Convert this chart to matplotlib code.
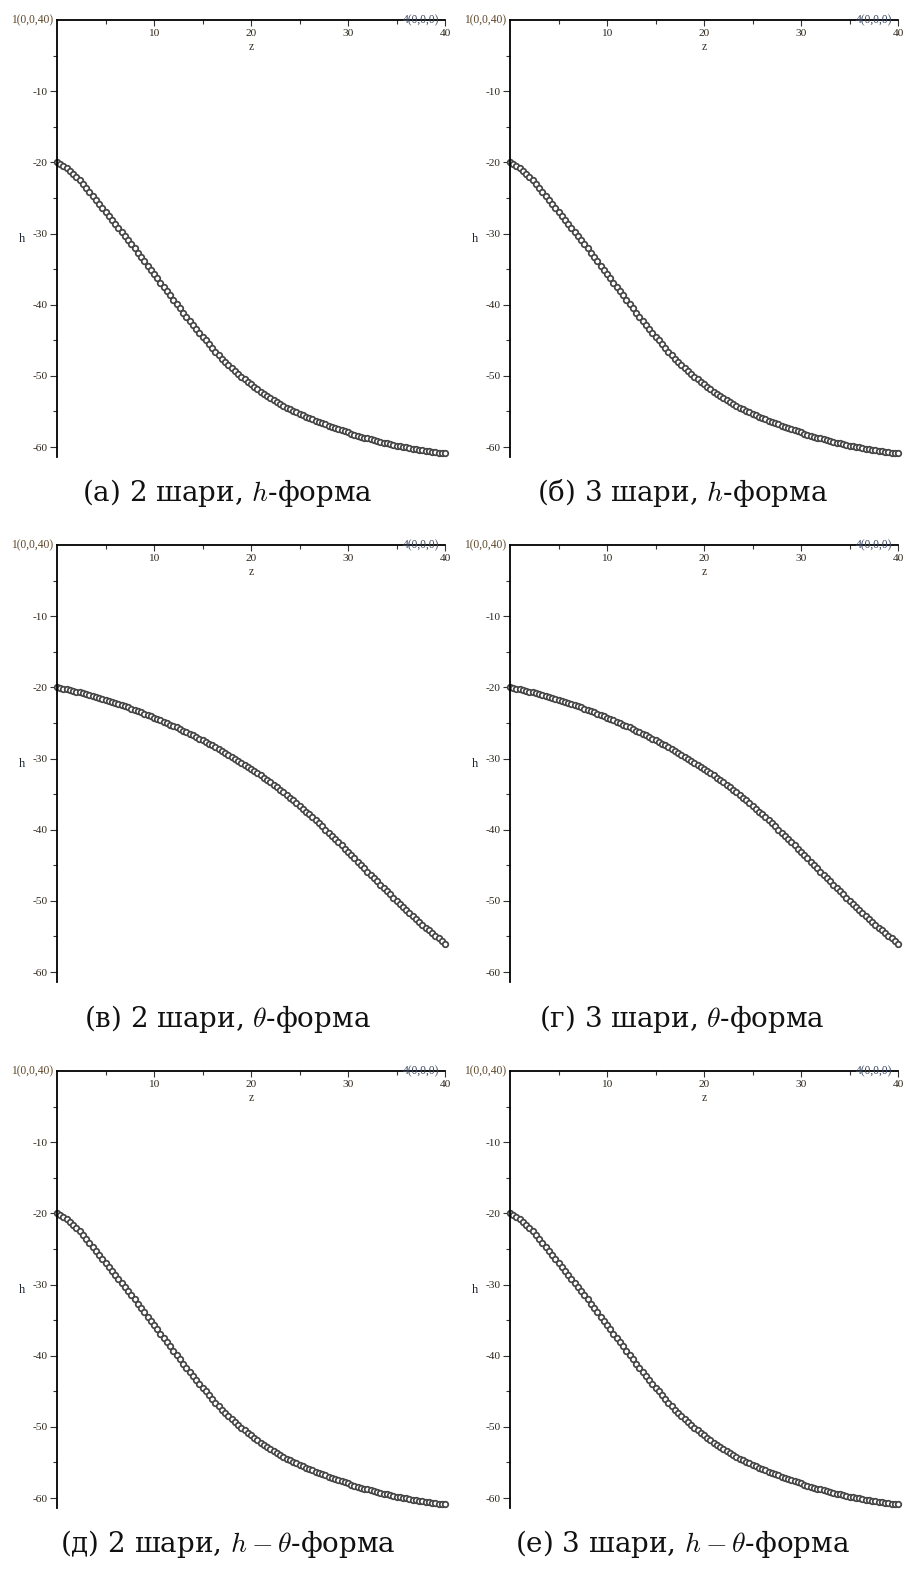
import matplotlib
matplotlib.use('Agg')
import matplotlib.pyplot as plt

plt.rcParams['font.family'] = ['Liberation Serif', 'DejaVu Serif']
plt.rcParams['mathtext.fontset'] = 'cm'

# сітка по z (крок 1/3)
z = [i / 3 for i in range(121)]

# h-форма (та сама крива для h та h-theta форм)
h_form = [
    -20.0, -20.2, -20.45, -20.75,
    -21.15, -21.57, -22.0,
    -22.53, -23.07, -23.6,
    -24.17, -24.73, -25.3,
    -25.87, -26.43, -27.0,
    -27.57, -28.13, -28.7,
    -29.27, -29.83, -30.4,
    -30.97, -31.53, -32.1,
    -32.7, -33.3, -33.9,
    -34.5, -35.1, -35.7,
    -36.3, -36.9, -37.5,
    -38.1, -38.7, -39.3,
    -39.9, -40.5, -41.1,
    -41.67, -42.23, -42.8,
    -43.37, -43.93, -44.5,
    -45.03, -45.57, -46.1,
    -46.6, -47.1, -47.6,
    -48.03, -48.47, -48.9,
    -49.3, -49.7, -50.1,
    -50.47, -50.83, -51.2,
    -51.53, -51.87, -52.2,
    -52.5, -52.8, -53.1,
    -53.38, -53.67, -53.95,
    -54.2, -54.45, -54.7,
    -54.92, -55.13, -55.35,
    -55.55, -55.75, -55.95,
    -56.13, -56.32, -56.5,
    -56.67, -56.83, -57.0,
    -57.17, -57.33, -57.5,
    -57.65, -57.8, -57.95,
    -58.1, -58.25, -58.4,
    -58.53, -58.67, -58.8,
    -58.92, -59.03, -59.15,
    -59.27, -59.38, -59.5,
    -59.6, -59.7, -59.8,
    -59.88, -59.97, -60.05,
    -60.13, -60.22, -60.3,
    -60.37, -60.43, -60.5,
    -60.57, -60.63, -60.7,
    -60.77, -60.83, -60.9,
]

# theta-форма
theta_form = [
    -20.0, -20.09, -20.18, -20.28,
    -20.39, -20.49, -20.6,
    -20.72, -20.83, -20.95,
    -21.08, -21.2, -21.33,
    -21.47, -21.6, -21.74,
    -21.89, -22.03, -22.18,
    -22.34, -22.49, -22.65,
    -22.82, -22.98, -23.15,
    -23.33, -23.5, -23.68,
    -23.87, -24.05, -24.24,
    -24.43, -24.63, -24.82,
    -25.02, -25.23, -25.43,
    -25.64, -25.86, -26.07,
    -26.29, -26.52, -26.74,
    -26.97, -27.21, -27.44,
    -27.68, -27.93, -28.17,
    -28.42, -28.68, -28.93,
    -29.2, -29.46, -29.73,
    -30.01, -30.29, -30.57,
    -30.86, -31.16, -31.45,
    -31.76, -32.06, -32.37,
    -32.7, -33.02, -33.35,
    -33.7, -34.04, -34.39,
    -34.76, -35.12, -35.49,
    -35.88, -36.26, -36.65,
    -37.05, -37.46, -37.86,
    -38.28, -38.7, -39.12,
    -39.55, -39.99, -40.42,
    -40.86, -41.31, -41.75,
    -42.2, -42.66, -43.11,
    -43.57, -44.03, -44.49,
    -44.95, -45.42, -45.88,
    -46.34, -46.81, -47.27,
    -47.73, -48.19, -48.65,
    -49.1, -49.56, -50.01,
    -50.44, -50.88, -51.31,
    -51.73, -52.14, -52.56,
    -52.96, -53.36, -53.76,
    -54.14, -54.53, -54.91,
    -55.28, -55.64, -56.01,
]

captions = [
    '(а) 2 шари, $h$-форма',
    '(б) 3 шари, $h$-форма',
    '(в) 2 шари, $\\theta$-форма',
    '(г) 3 шари, $\\theta$-форма',
    '(д) 2 шари, $h-\\theta$-форма',
    '(е) 3 шари, $h-\\theta$-форма',
]
curves = [h_form, h_form, theta_form, theta_form, h_form, h_form]

x_major = [10, 20, 30, 40]
x_minor = [5, 15, 25, 35]
y_major = [-10, -20, -30, -40, -50, -60]
y_minor = [-5, -15, -25, -35, -45, -55]

W, H = 906, 1577
fig = plt.figure(figsize=(W / 100, H / 100), dpi=100)

col_left = [57, 510]
row_top = [20, 545, 1071]
ax_w, ax_h = 388, 437
cap_base = [501, 1027, 1552]
cap_x = [0.251, 0.753]

tick_col = '#2e261c'

for i in range(6):
    r, c = i // 2, i % 2
    ax = fig.add_axes([col_left[c] / W, 1 - (row_top[r] + ax_h) / H, ax_w / W, ax_h / H])
    ax.plot(z, curves[i], 'o', ms=4.0, mfc='white', mec='#444444', mew=1.25, clip_on=False)
    ax.set_xlim(0, 40)
    ax.set_ylim(-61.4, 0)

    for s in ['right', 'bottom']:
        ax.spines[s].set_visible(False)
    for s in ['left', 'top']:
        ax.spines[s].set_linewidth(1.3)
        ax.spines[s].set_color('black')

    ax.set_xticks(x_major)
    ax.set_xticks(x_minor, minor=True)
    ax.tick_params(axis='x', which='both', top=True, bottom=False, labeltop=False,
                   labelbottom=False, direction='in', color='#333333', width=0.8)
    ax.tick_params(axis='x', which='major', length=4)
    ax.tick_params(axis='x', which='minor', length=3)
    for t in x_major:
        ax.text(t, 1 - 13.7 / ax_h, str(t), transform=ax.get_xaxis_transform(),
                ha='center', va='center', fontsize=8.2, color=tick_col)

    ax.set_yticks(y_major)
    ax.set_yticklabels(['-' + str(-v) for v in y_major], fontsize=8.2, color=tick_col)
    ax.set_yticks(y_minor, minor=True)
    ax.tick_params(axis='y', which='both', direction='out', color='#333333', width=0.8)
    ax.tick_params(axis='y', which='major', length=5, pad=2)
    ax.tick_params(axis='y', which='minor', length=3)

    ax.text(0.5, 1 - 26.7 / ax_h, 'z', transform=ax.transAxes, ha='center', va='center',
            fontsize=8.5, color='#3a3024')
    ax.text(-35.3 / ax_w, 0.498, 'h', transform=ax.transAxes, ha='center', va='center',
            fontsize=9, color='#1c2430')

    ax.text(-0.35, 0, '1(0,0,40)', ha='right', va='center', fontsize=8.3,
            color='#5e4628', clip_on=False)
    ax.text(35.6, 0, '4(0,0,0)', ha='left', va='center', fontsize=8.3,
            color='#3a4660', clip_on=False)

    fig.text(cap_x[c], 1 - cap_base[r] / H, captions[i], ha='center', va='baseline',
             fontsize=20, color='#111111', family=['DejaVu Serif'])

fig.savefig('out.png', dpi=100)
